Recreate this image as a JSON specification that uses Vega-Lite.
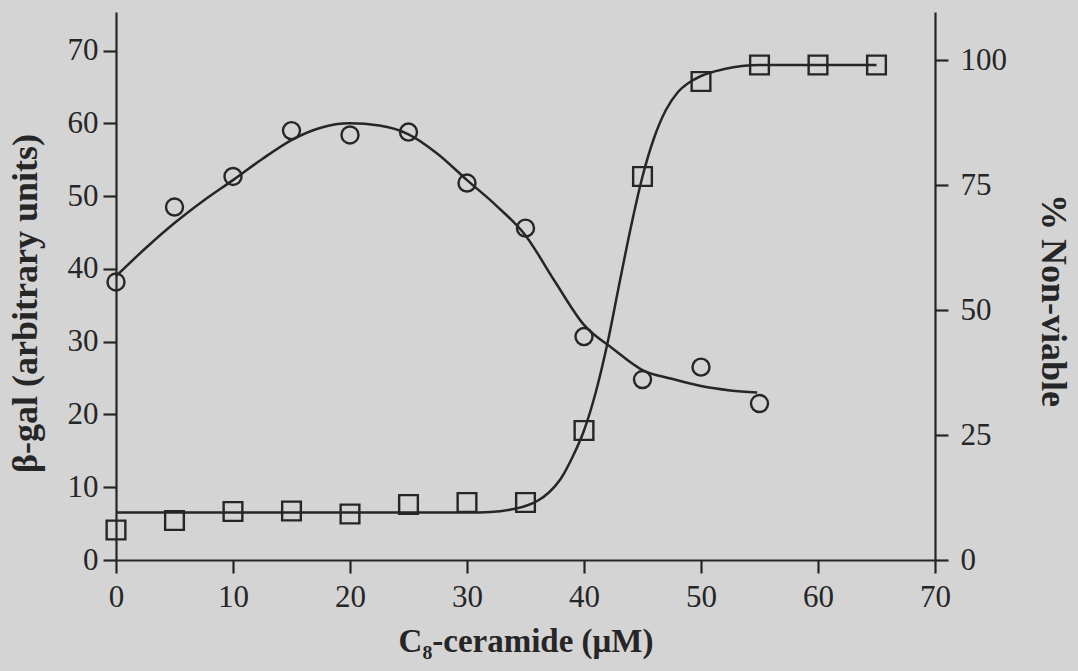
{
  "$schema": "https://vega.github.io/schema/vega-lite/v6.json",
  "width": 819,
  "height": 548,
  "autosize": {"type": "none"},
  "padding": {"left": 116, "top": 12, "right": 143, "bottom": 111},
  "background": "#d4d4d4",
  "config": {
    "view": {"stroke": null},
    "font": "Liberation Serif",
    "axis": {
      "domainColor": "#262626",
      "domainWidth": 2.2,
      "tickColor": "#262626",
      "tickWidth": 2.2,
      "tickSize": 13,
      "grid": false,
      "labelFlush": false,
      "labelFont": "Liberation Serif",
      "labelFontSize": 31,
      "labelColor": "#262626",
      "titleFont": "Liberation Serif",
      "titleFontWeight": "bold",
      "titleFontSize": 33,
      "titleColor": "#262626"
    }
  },
  "datasets": {
    "betaGal": [
      {"c": 0, "beta": 38.2},
      {"c": 5, "beta": 48.5},
      {"c": 10, "beta": 52.7},
      {"c": 15, "beta": 59.0},
      {"c": 20, "beta": 58.4},
      {"c": 25, "beta": 58.8},
      {"c": 30, "beta": 51.8},
      {"c": 35, "beta": 45.6},
      {"c": 40, "beta": 30.7},
      {"c": 45, "beta": 24.8},
      {"c": 50, "beta": 26.5},
      {"c": 55, "beta": 21.5}
    ],
    "betaGalFit": [
      {"c": 0, "beta": 39.0},
      {"c": 2.5, "beta": 42.8},
      {"c": 5, "beta": 46.3},
      {"c": 7.5, "beta": 49.4},
      {"c": 10, "beta": 52.2},
      {"c": 12.5, "beta": 55.1},
      {"c": 15, "beta": 57.7},
      {"c": 17.5, "beta": 59.4},
      {"c": 20, "beta": 60.0},
      {"c": 22.5, "beta": 59.7},
      {"c": 25, "beta": 58.5},
      {"c": 27.5, "beta": 55.8},
      {"c": 30, "beta": 52.2},
      {"c": 32.5, "beta": 48.7},
      {"c": 35, "beta": 44.6},
      {"c": 37.5, "beta": 38.3},
      {"c": 40, "beta": 32.3},
      {"c": 42.5, "beta": 29.0},
      {"c": 45, "beta": 26.1},
      {"c": 47.5, "beta": 24.9},
      {"c": 50, "beta": 23.9},
      {"c": 52.5, "beta": 23.3},
      {"c": 54.8, "beta": 23.0}
    ],
    "nonViable": [
      {"c": 0, "pct": 6.0},
      {"c": 5, "pct": 7.9},
      {"c": 10, "pct": 9.7},
      {"c": 15, "pct": 9.8},
      {"c": 20, "pct": 9.2},
      {"c": 25, "pct": 11.1},
      {"c": 30, "pct": 11.5},
      {"c": 35, "pct": 11.5},
      {"c": 40, "pct": 25.9},
      {"c": 45, "pct": 76.7},
      {"c": 50, "pct": 95.7},
      {"c": 55, "pct": 99.0},
      {"c": 60, "pct": 99.0},
      {"c": 65, "pct": 99.0}
    ],
    "nonViableFit": [
      {"c": 0, "pct": 9.5},
      {"c": 10, "pct": 9.5},
      {"c": 20, "pct": 9.5},
      {"c": 30, "pct": 9.5},
      {"c": 32, "pct": 9.6},
      {"c": 34, "pct": 10.2},
      {"c": 35, "pct": 10.8},
      {"c": 36, "pct": 11.8},
      {"c": 37, "pct": 13.5},
      {"c": 38, "pct": 16.2},
      {"c": 39, "pct": 20.5},
      {"c": 40, "pct": 25.9},
      {"c": 41, "pct": 33.5},
      {"c": 42, "pct": 43.3},
      {"c": 43, "pct": 55.0},
      {"c": 44, "pct": 66.5},
      {"c": 45, "pct": 76.7},
      {"c": 46, "pct": 84.5},
      {"c": 47, "pct": 90.0},
      {"c": 48, "pct": 93.5},
      {"c": 49, "pct": 95.5},
      {"c": 50, "pct": 96.8},
      {"c": 52, "pct": 98.2},
      {"c": 55, "pct": 99.0},
      {"c": 60, "pct": 99.0},
      {"c": 65, "pct": 99.0}
    ]
  },
  "layer": [
    {
      "layer": [
        {
          "data": {"name": "betaGalFit"},
          "mark": {"type": "line", "interpolate": "monotone", "color": "#262626", "strokeWidth": 2.5},
          "encoding": {
            "x": {"field": "c", "type": "quantitative"},
            "y": {"field": "beta", "type": "quantitative"}
          }
        },
        {
          "data": {"name": "betaGal"},
          "mark": {"type": "point", "shape": "circle", "filled": false, "size": 290, "stroke": "#262626", "strokeWidth": 2.4, "opacity": 1},
          "encoding": {
            "x": {"field": "c", "type": "quantitative"},
            "y": {"field": "beta", "type": "quantitative"}
          }
        }
      ],
      "encoding": {
        "x": {
          "field": "c",
          "type": "quantitative",
          "scale": {"domain": [0, 70], "nice": false, "zero": false},
          "axis": {
            "title": "C₈-ceramide (μM)",
            "values": [0, 10, 20, 30, 40, 50, 60, 70],
            "labelPadding": 9,
            "titlePadding": 13
          }
        },
        "y": {
          "field": "beta",
          "type": "quantitative",
          "scale": {"domain": [0, 75.3], "nice": false},
          "axis": {
            "orient": "left",
            "title": "β-gal (arbitrary units)",
            "titleFontSize": 36,
            "titleY": 291,
            "values": [0, 10, 20, 30, 40, 50, 60, 70],
            "labelPadding": 5,
            "titlePadding": 23
          }
        }
      }
    },
    {
      "layer": [
        {
          "data": {"name": "nonViableFit"},
          "mark": {"type": "line", "interpolate": "monotone", "color": "#262626", "strokeWidth": 2.5},
          "encoding": {
            "x": {"field": "c", "type": "quantitative"},
            "y": {"field": "pct", "type": "quantitative"}
          }
        },
        {
          "data": {"name": "nonViable"},
          "mark": {"type": "point", "shape": "square", "filled": false, "size": 350, "stroke": "#262626", "strokeWidth": 2.4, "opacity": 1},
          "encoding": {
            "x": {"field": "c", "type": "quantitative"},
            "y": {"field": "pct", "type": "quantitative"}
          }
        }
      ],
      "encoding": {
        "y": {
          "field": "pct",
          "type": "quantitative",
          "scale": {"domain": [0, 109.6], "nice": false},
          "axis": {
            "orient": "right",
            "title": "% Non-viable",
            "titleFontSize": 36,
            "titleY": 288,
            "values": [0, 25, 50, 75, 100],
            "labelPadding": 12,
            "titlePadding": 27
          }
        }
      }
    }
  ],
  "resolve": {"scale": {"y": "independent"}}
}
